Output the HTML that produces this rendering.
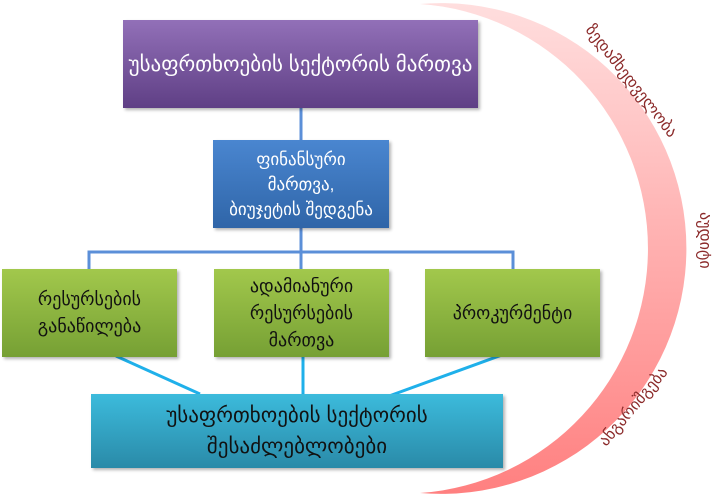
<!DOCTYPE html>
<html><head><meta charset="utf-8"><style>
body{margin:0;width:715px;height:495px;background:#fff;overflow:hidden;position:relative;font-family:"Liberation Sans","DejaVu Sans",sans-serif}
.b{position:absolute;display:flex;align-items:center;justify-content:center;text-align:center;box-shadow:2px 2px 3px rgba(0,0,0,.3)}
</style></head><body>
<svg width="715" height="495" style="position:absolute;left:0;top:0">
<defs><linearGradient id="cr" x1="0" y1="0" x2="0" y2="1"><stop offset="0" stop-color="#ffdede"/><stop offset="1" stop-color="#ff8080"/></linearGradient></defs>
<path d="M420,4 A245.4 245.4 0 1 1 420,493 A245.1 245.1 0 0 0 420,4 Z" fill="url(#cr)"/>
<g stroke="#5b8fd8" stroke-width="3" fill="none">
<path d="M301,108 V140 M301,228 V252 M89,269 V252 H513 V269 M301,252 V269"/>
</g>
<g stroke="#1fb0ea" stroke-width="3">
<line x1="116" y1="356" x2="200" y2="394"/><line x1="303" y1="356" x2="303" y2="394"/><line x1="510" y1="352" x2="378" y2="400"/>
</g>
<g fill="#8b2a2a" font-size="16" font-family="DejaVu Sans,sans-serif">
<text transform="translate(585,30) rotate(52)">ზედამხედველობა</text>
<text transform="translate(700,212) rotate(90)">აუდიტი</text>
<text transform="translate(606,447) rotate(-50)">ანგარიშგება</text>
</g>
</svg>
<div class="b" style="left:123px;top:20px;width:355px;height:88px;background:linear-gradient(#9270b8,#5f3f85);color:#fff;font-size:21px">უსაფრთხოების სექტორის მართვა</div>
<div class="b" style="left:213px;top:140px;width:176px;height:88px;background:linear-gradient(#4a86d0,#2f65a8);color:#fff;font-size:17px;line-height:25px">ფინანსური<br>მართვა,<br>ბიუჯეტის შედგენა</div>
<div class="b" style="left:2px;top:269px;width:175px;height:88px;background:linear-gradient(#a2c84c,#76a034);color:#111;font-size:18px;line-height:27px">რესურსების<br>განაწილება</div>
<div class="b" style="left:214px;top:269px;width:175px;height:88px;background:linear-gradient(#a2c84c,#76a034);color:#111;font-size:18px;line-height:27px">ადამიანური<br>რესურსების<br>მართვა</div>
<div class="b" style="left:425px;top:269px;width:175px;height:88px;background:linear-gradient(#a2c84c,#76a034);color:#111;font-size:18px">პროკურმენტი</div>
<div class="b" style="left:91px;top:394px;width:412px;height:74px;background:linear-gradient(#3cbbdc,#2a8aa8);color:#111;font-size:21px;line-height:31px">უსაფრთხოების სექტორის<br>შესაძლებლობები</div>
</body></html>
